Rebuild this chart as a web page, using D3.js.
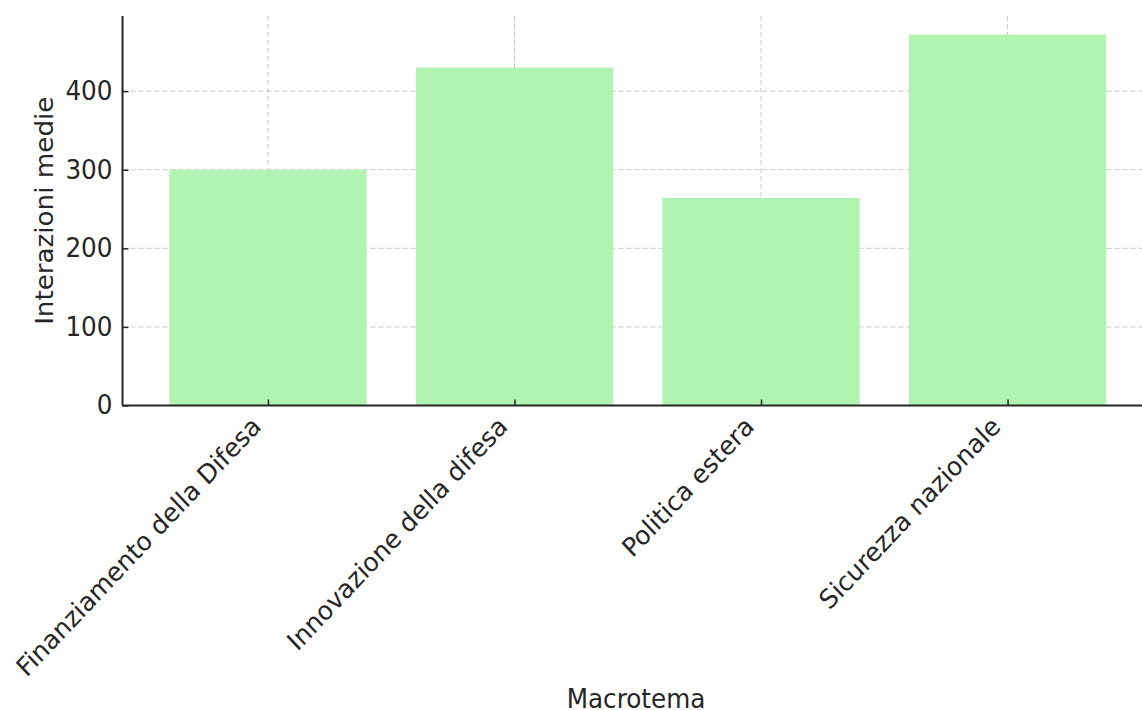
<!DOCTYPE html>
<html><head><meta charset="utf-8">
<script src="https://cdn.jsdelivr.net/npm/d3@7"></script>
<style>
html,body{margin:0;padding:0;background:#fff;overflow:hidden}
text{font-family:"DejaVu Sans",sans-serif;fill:#262626}
</style></head>
<body><svg id="c" width="1142" height="710"></svg>
<script>
const categories = ["Finanziamento della Difesa","Innovazione della difesa","Politica estera","Sicurezza nazionale"];
const values = [300, 430, 264, 472];
const yTicks = [0, 100, 200, 300, 400];
const xLabel = "Macrotema";
const yLabel = "Interazioni medie";

(function(){
const svg = d3.select("#c");
const pL = 122.5, pR = 1153, pT = 16, pB = 405.5;
const FS = 24.7, K = 1.06;
const x = d3.scaleLinear().domain([-0.59, 3.59]).range([pL, pR]);
const y = d3.scaleLinear().domain([0, 495.6]).range([pB, pT]);
const barW = 0.8;

// grid
const g = svg.append("g");
g.selectAll(".hg").data(yTicks).join("line")
  .attr("x1", pL).attr("x2", 1142).attr("y1", d=>y(d)).attr("y2", d=>y(d))
  .attr("stroke", "#c8c8c8").attr("stroke-width", 1).attr("stroke-dasharray", "5,3");
g.selectAll(".vg").data(categories).join("line")
  .attr("x1", (d,i)=>x(i)).attr("x2", (d,i)=>x(i)).attr("y1", pT).attr("y2", pB)
  .attr("stroke", "#c8c8c8").attr("stroke-width", 1).attr("stroke-dasharray", "5,3");

// bars
svg.selectAll(".bar").data(values).join("rect")
  .attr("x", (d,i)=>x(i-barW/2)).attr("width", (d,i)=>x(i+barW/2)-x(i-barW/2))
  .attr("y", d=>y(d)).attr("height", d=>pB-y(d))
  .attr("fill", "#b1f3b1");

// y axis
const ya = svg.append("g").attr("transform", `translate(${pL},0)`)
  .call(d3.axisLeft(y).tickValues(yTicks).tickSizeInner(-6).tickSizeOuter(0).tickPadding(10));
ya.select(".domain").attr("stroke", "#262626").attr("stroke-width", 2).attr("d", `M0,${pB}V${pT}`);
ya.selectAll(".tick line").attr("stroke", "#262626").attr("stroke-width", 1.5);
ya.selectAll("text").attr("font-size", FS).attr("fill", "#262626").attr("font-family", "DejaVu Sans")
  .attr("transform", `scale(1,${K})`);

// x axis
const xa = svg.append("g").attr("transform", `translate(0,${pB})`)
  .call(d3.axisBottom(x).tickValues(d3.range(categories.length)).tickFormat(i=>categories[i]).tickSizeInner(-6).tickSizeOuter(0).tickPadding(0));
xa.select(".domain").attr("stroke", "#262626").attr("stroke-width", 2).attr("d", `M${pL},0H1142`);
xa.selectAll(".tick line").attr("stroke", "#262626").attr("stroke-width", 1.5);
xa.selectAll("text").attr("font-size", FS).attr("fill", "#262626").attr("font-family", "DejaVu Sans")
  .attr("text-anchor", "end").attr("dy", 0).attr("y", 0)
  .attr("transform", `translate(-6,22.5) scale(1,${K}) rotate(-45)`);

// labels
svg.append("text").attr("transform", `translate(636,708) scale(1,${K})`).attr("text-anchor", "middle").attr("font-size", FS).text(xLabel);
svg.append("text").attr("transform", `translate(53,${(pT+pB)/2}) scale(1,${K}) rotate(-90)`).attr("text-anchor", "middle").attr("font-size", FS).text(yLabel);
})();
</script></body></html>
